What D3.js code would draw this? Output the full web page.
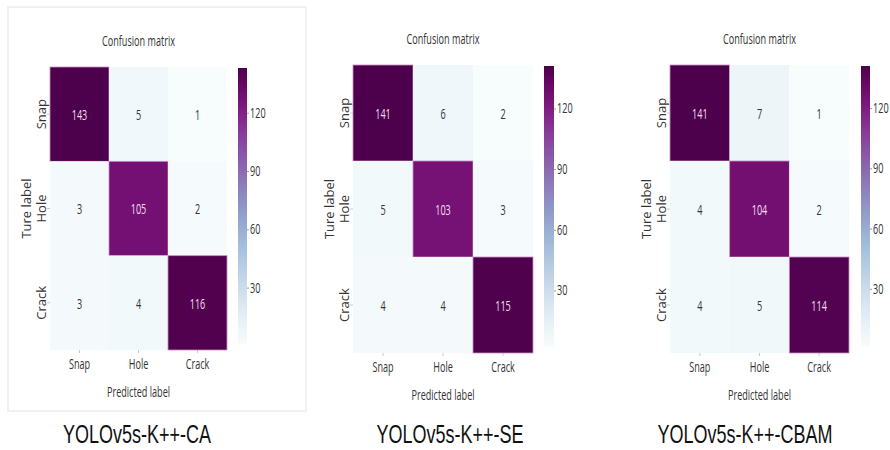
<!DOCTYPE html>
<html>
<head>
<meta charset="utf-8">
<script src="https://cdn.jsdelivr.net/npm/d3@7"></script>
<style>
  body { margin: 0; background: #fff; }
  svg { display: block; }
</style>
</head>
<body>
<div id="chart"></div>
<script>
// ---- data ----
const classes = ["Snap", "Hole", "Crack"];
const modelNames = ["YOLOv5s-K++-CA", "YOLOv5s-K++-SE", "YOLOv5s-K++-CBAM"];
const matCA   = [[143, 5, 1], [3, 105, 2], [3, 4, 116]];
const matSE   = [[141, 6, 2], [5, 103, 3], [4, 4, 115]];
const matCBAM = [[141, 7, 1], [4, 104, 2], [4, 5, 114]];
const cbarTicks = [30, 60, 90, 120];

const W = 890, H = 450;
const sx = 0.65;   // the source image is squeezed horizontally
const FONT = "'Open Sans', 'Noto Sans', sans-serif";

// panel boxes (matrix area + colorbar) in screen px
const panels = [
    {mat: matCA,   name: modelNames[0], left: 50,  top: 67, w: 177, h: 283, cbX: 238, cbW: 9,  capX: 137},
    {mat: matSE,   name: modelNames[1], left: 353, top: 65, w: 180, h: 288, cbX: 544, cbW: 10, capX: 450},
    {mat: matCBAM, name: modelNames[2], left: 670, top: 65, w: 179, h: 288, cbX: 861, cbW: 9,  capX: 745}
];

const svg = d3.select("#chart").append("svg")
    .attr("width", W)
    .attr("height", H);

// faint frame around the first picture
svg.append("rect")
    .attr("x", 8).attr("y", 7)
    .attr("width", 298).attr("height", 404)
    .attr("fill", "none")
    .attr("stroke", "#f1f1f1")
    .attr("stroke-width", 2);

const defs = svg.append("defs");

// squeezed text helper (rotated labels are not squeezed)
function sText(g, x, y, str, size, rot) {
    let tf = rot ? `translate(${x},${y}) rotate(${rot})` : `translate(${x},${y}) scale(${sx},1)`;
    return g.append("text")
        .attr("transform", tf)
        .attr("text-anchor", "middle")
        .attr("dominant-baseline", "central")
        .style("font-family", FONT)
        .style("font-size", size + "px")
        .attr("fill", "#333")
        .text(str);
}

panels.forEach(function(p, pi) {
    let g = svg.append("g");

    let flat = p.mat.flat();
    let vmin = d3.min(flat), vmax = d3.max(flat);
    // colorbar is linear over the data range; the cells in the picture read darker,
    // so the cell scale saturates earlier
    let cbColor = d3.scaleSequential(d3.interpolateBuPu).domain([vmin, vmax]);
    let cellColor = d3.scaleSequential(d3.interpolateBuPu).domain([vmin, vmax * 0.82]).clamp(true);

    let x = d3.scaleBand().domain(classes).range([p.left, p.left + p.w]);
    let y = d3.scaleBand().domain(classes).range([p.top, p.top + p.h]);

    let cells = [];
    p.mat.forEach(function(row, i) {
        row.forEach(function(v, j) {
            cells.push({t: classes[i], pr: classes[j], v: v});
        });
    });

    g.selectAll("rect.cell")
        .data(cells)
        .enter()
        .append("rect")
        .attr("class", "cell")
        .attr("x", d => x(d.pr))
        .attr("y", d => y(d.t))
        .attr("width", x.bandwidth())
        .attr("height", y.bandwidth())
        .attr("fill", d => cellColor(d.v))
        .attr("stroke", d => d.v > (vmin + vmax) / 2 ? "#c98cc4" : "none")
        .attr("stroke-width", 0.8);

    cells.forEach(function(d) {
        sText(g, x(d.pr) + x.bandwidth() / 2, y(d.t) + y.bandwidth() / 2, d.v, 14)
            .attr("fill", d.v > (vmin + vmax) / 2 ? "#f3dff1" : "#333");
    });

    // tick labels
    classes.forEach(function(c) {
        let cx = x(c) + x.bandwidth() / 2;
        g.append("line")
            .attr("x1", cx).attr("x2", cx)
            .attr("y1", p.top + p.h).attr("y2", p.top + p.h + 3)
            .attr("stroke", "#bbb").attr("stroke-width", 0.8);
        sText(g, cx, p.top + p.h + 13, c, 14);

        let cy = y(c) + y.bandwidth() / 2;
        g.append("line")
            .attr("x1", p.left - 3).attr("x2", p.left)
            .attr("y1", cy).attr("y2", cy)
            .attr("stroke", "#bbb").attr("stroke-width", 0.8);
        sText(g, p.left - 9, cy, c, 13, -90);
    });

    // titles
    sText(g, p.left + p.w / 2, p.top - 27, "Confusion matrix", 14);
    sText(g, p.left + p.w / 2, p.top + p.h + 41, "Predicted label", 14);
    sText(g, p.left - 24, p.top + p.h / 2, "Ture label", 13, -90);

    // colorbar
    let gid = "cbgrad" + pi;
    let grad = defs.append("linearGradient")
        .attr("id", gid)
        .attr("x1", 0).attr("y1", 1).attr("x2", 0).attr("y2", 0);
    d3.range(0, 1.0001, 0.05).forEach(function(t) {
        grad.append("stop")
            .attr("offset", t)
            .attr("stop-color", cbColor(vmin + t * (vmax - vmin)));
    });

    let cbScale = d3.scaleLinear().domain([vmin, vmax]).range([p.top + p.h - 6, p.top + 1]);
    g.append("rect")
        .attr("x", p.cbX)
        .attr("y", cbScale(vmax))
        .attr("width", p.cbW)
        .attr("height", cbScale(vmin) - cbScale(vmax))
        .attr("fill", `url(#${gid})`);

    let ax = g.append("g")
        .attr("transform", `translate(${p.cbX + p.cbW},0)`)
        .call(d3.axisRight(cbScale).tickValues(cbarTicks).tickSize(2).tickPadding(3));
    ax.select(".domain").remove();
    ax.selectAll(".tick line").attr("stroke", "#999");
    ax.selectAll(".tick text")
        .style("font-family", FONT)
        .style("font-size", "14px")
        .attr("fill", "#333")
        .attr("transform", `scale(${sx},1)`)
        .attr("x", 3 / sx);

    // caption below
    svg.append("text")
        .attr("transform", `translate(${p.capX},443) scale(0.72,1)`)
        .attr("text-anchor", "middle")
        .style("font-family", "'Liberation Sans', Arial, sans-serif")
        .style("font-size", "25px")
        .attr("fill", "#111")
        .text(p.name);
});
</script>
</body>
</html>
